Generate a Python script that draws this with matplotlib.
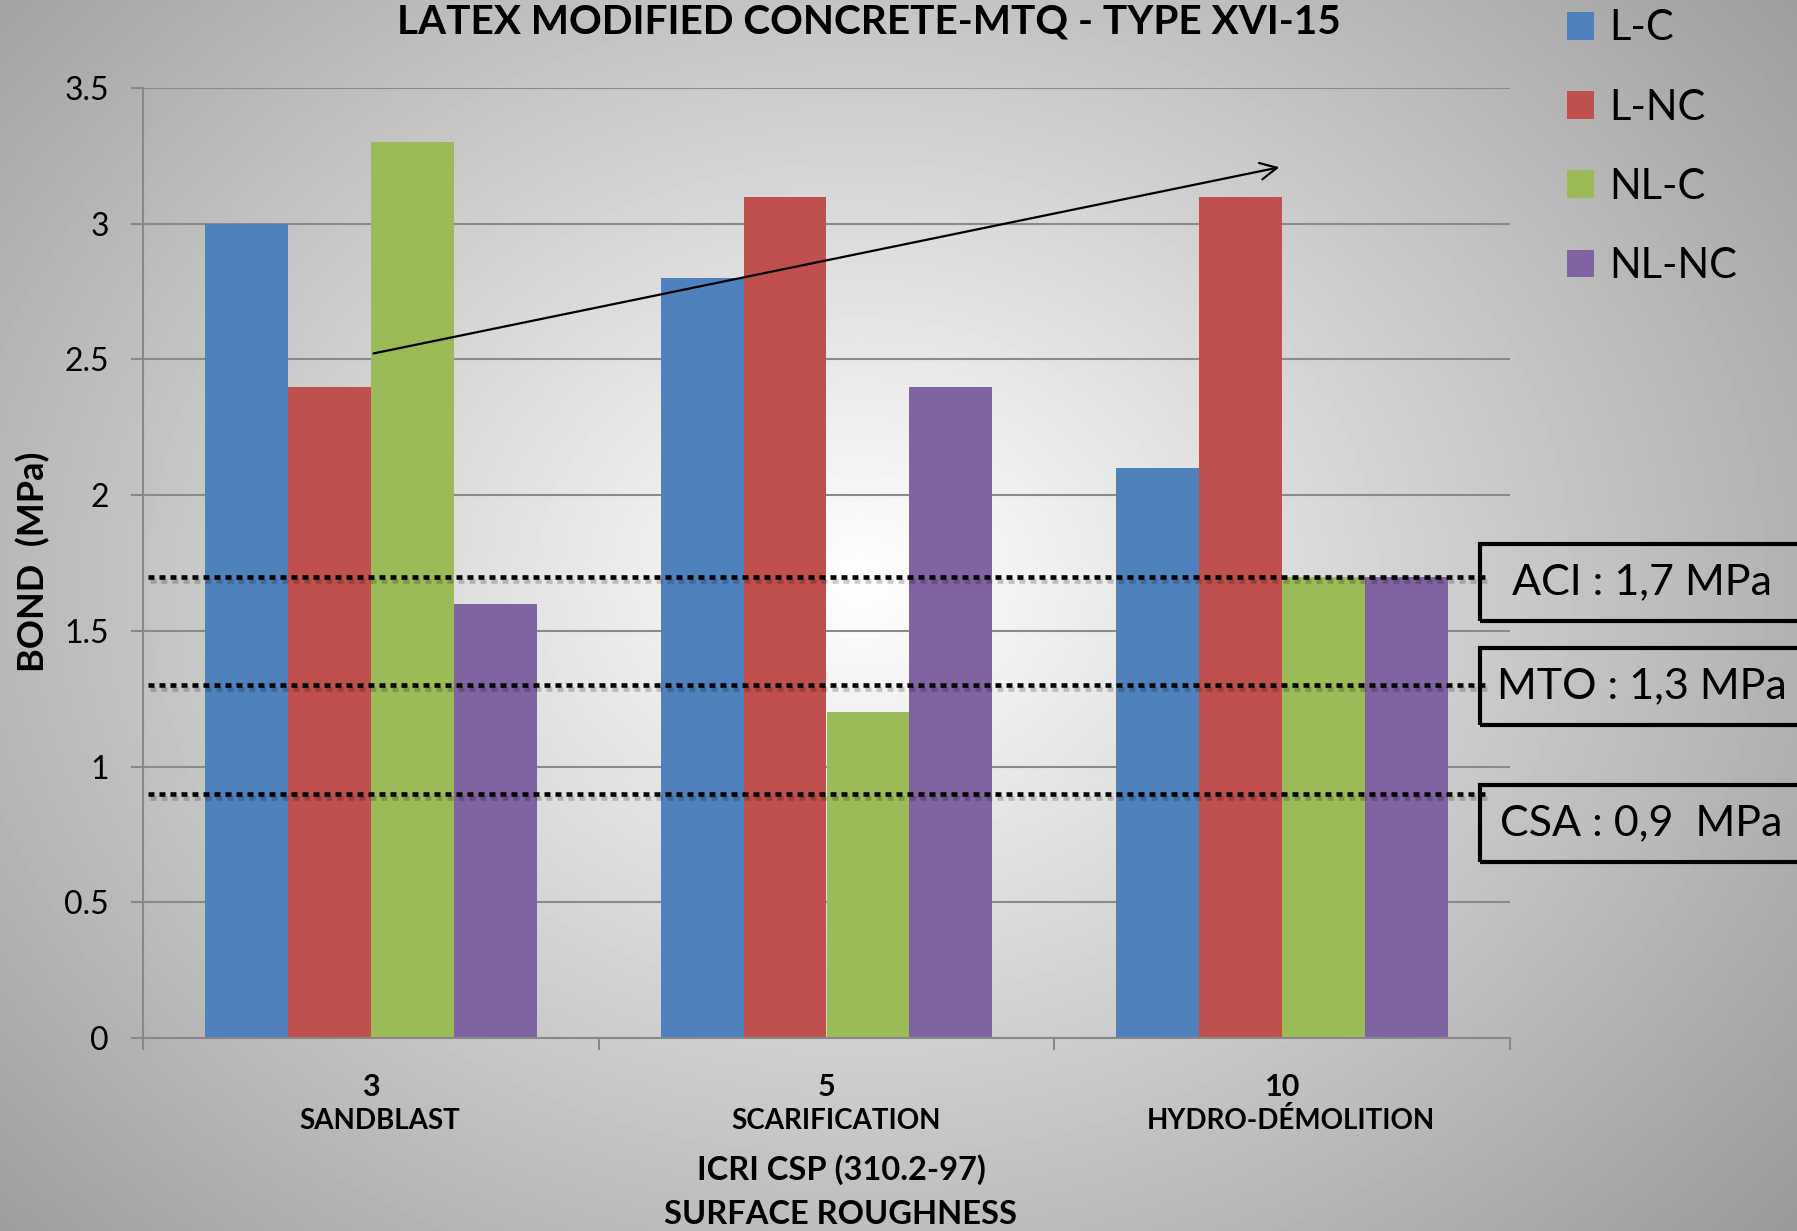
import numpy as np
import matplotlib
matplotlib.use("Agg")
import matplotlib.pyplot as plt
from matplotlib.patches import Rectangle, Patch
from matplotlib.transforms import blended_transform_factory
import matplotlib.patheffects as pe

# bond strength per surface preparation (MPa)
surfaces = ["SANDBLAST", "SCARIFICATION", "HYDRO-DÉMOLITION"]
csp_levels = ["3", "5", "10"]
series = ["L-C", "L-NC", "NL-C", "NL-NC"]
l_c = [3.0, 2.8, 2.1]
l_nc = [2.4, 3.1, 3.1]
nl_c = [3.3, 1.2, 1.7]
nl_nc = [1.6, 2.4, 1.7]
colors = ["#4F81BD", "#C0504D", "#9BBB59", "#8064A2"]

# code requirements
req_names = ["ACI : 1,7 MPa", "MTO : 1,3 MPa", "CSA : 0,9  MPa"]
req_values = [1.7, 1.3, 0.9]

# trend arrow (category, MPa)
trend_start = (0.0, 2.52)
trend_end = (2.0, 3.21)

W, H = 1797, 1231
FONT = ["Lato", "DejaVu Sans"]
plt.rcParams["font.family"] = FONT

fig = plt.figure(figsize=(W / 100, H / 100), dpi=100)

# radial grey background, bright in the middle
bg = fig.add_axes([0, 0, 1, 1], zorder=-10)
bg.axis("off")
yy, xx = np.mgrid[0:H, 0:W]
r = np.sqrt(((xx - 860) / 1050.0) ** 2 + ((yy - 580) / 850.0) ** 2)
shade = np.clip(1.0 - 0.34 * r, 0.585, 1)
bg.imshow(shade, cmap="gray", vmin=0, vmax=1, extent=[0, 1, 0, 1], aspect="auto")

ax = fig.add_axes([143 / W, 1 - 1038 / H, (1510 - 143) / W, (1038 - 88) / H])
ax.patch.set_alpha(0)

x = np.arange(len(surfaces))
width = 0.1818
for i, vals in enumerate([l_c, l_nc, nl_c, nl_nc]):
    ax.bar(x + (i - 1.5) * width, vals, width, color=colors[i], zorder=2)

ax.set_xlim(-0.5, 2.5)
ax.set_ylim(0, 3.5)
ax.set_yticks(np.arange(0, 3.51, 0.5))
ax.set_yticklabels(["0", "0.5", "1", "1.5", "2", "2.5", "3", "3.5"], fontsize=23)
ax.set_xticks([-0.5, 0.5, 1.5, 2.5])
ax.set_xticklabels([])
ax.tick_params(axis="both", direction="out", length=8.6, width=1.5, color="#888888")
ax.tick_params(axis="y", pad=16)
ax.yaxis.grid(True, color="#8a8a8a", lw=1.5)
ax.set_axisbelow(True)
for s in ["top", "right"]:
    ax.spines[s].set_visible(False)
for s in ["left", "bottom"]:
    ax.spines[s].set_color("#888888")
    ax.spines[s].set_linewidth(1.5)

# category labels under the axis
trans = blended_transform_factory(ax.transData, ax.transAxes)
for xi, num, name in zip(x, csp_levels, surfaces):
    ax.text(xi, -0.052, num, transform=trans, ha="center", va="center",
            fontsize=22, fontweight="bold")
    ax.text(xi + 0.02, -0.087, name, transform=trans, ha="center", va="center",
            fontsize=20, fontweight="bold")

fig.text(841 / W, 1 - 1170 / H, "ICRI CSP (310.2-97)", ha="center", va="center",
         fontsize=23.5, fontweight="bold")
fig.text(841 / W, 1 - 1214 / H, "SURFACE ROUGHNESS", ha="center", va="center",
         fontsize=23.5, fontweight="bold")
fig.text(33 / W, 1 - 562 / H, "BOND  (MPa)", rotation=90, ha="center", va="center",
         fontsize=26, fontweight="bold")
fig.text(869 / W, 1 - 22 / H, "LATEX MODIFIED CONCRETE-MTQ - TYPE XVI-15",
         ha="center", va="center", fontsize=29.2, fontweight="bold")

# requirement lines and their boxes
ltrans = blended_transform_factory(ax.transAxes, ax.transData)
box_tops = [544, 648, 785]
text_x = [1512, 1497, 1500]
for name, v, top, tx in zip(req_names, req_values, box_tops, text_x):
    ax.plot([0.004, 0.985], [v, v], transform=ltrans, color="black", lw=3.3,
            linestyle=(0, (1.3, 1.1)), clip_on=False, zorder=4,
            path_effects=[pe.SimpleLineShadow(offset=(1, -3), alpha=0.2),
                          pe.Normal()])
    fig.add_artist(Rectangle((1480 / W, 1 - (top + 77) / H), 400 / W, 77 / H,
                             transform=fig.transFigure, fill=False,
                             edgecolor="black", lw=3))
    fig.text(tx / W, 1 - (top + 38) / H, name, ha="left", va="center",
             fontsize=31)

ax.annotate("", xy=trend_end, xytext=trend_start,
            arrowprops=dict(arrowstyle="->", lw=1.6, color="black",
                            mutation_scale=30), zorder=5)

handles = [Patch(facecolor=c) for c in colors]
fig.legend(handles, series, loc="upper left", bbox_to_anchor=(1538 / W, 1.016),
           frameon=False, fontsize=30, handlelength=0.65, handleheight=0.65,
           handletextpad=0.35, labelspacing=0.99, borderpad=0.2)

fig.savefig("out.png", dpi=100)
